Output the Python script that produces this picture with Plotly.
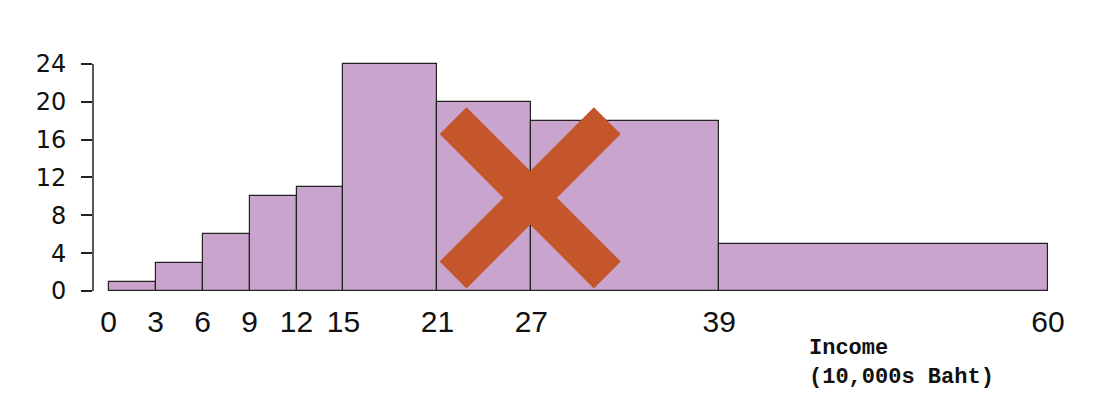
import plotly.graph_objects as go

# Histogram bins (income, 10,000s Baht) and counts
bin_left = [0, 3, 6, 9, 12, 15, 21, 27, 39]
bin_right = [3, 6, 9, 12, 15, 21, 27, 39, 60]
counts = [1, 3, 6, 10, 11, 24, 20, 18, 5]
x_ticks = [0, 3, 6, 9, 12, 15, 21, 27, 39, 60]
y_ticks = [0, 4, 8, 12, 16, 20, 24]

widths = [r - l for l, r in zip(bin_left, bin_right)]

fig = go.Figure()
fig.add_trace(go.Bar(
    x=bin_left, y=counts, width=widths, offset=0,
    marker=dict(color="#C9A5CE", line=dict(color="#222222", width=1.2)),
    showlegend=False, hoverinfo="skip", cliponaxis=False,
))

# Red cross over the 21-39 region
cross_color = "#C5562B"
fig.add_shape(type="line", xref="x", yref="y", x0=22.0, y0=18.0, x1=31.85, y1=1.7,
              line=dict(color=cross_color, width=38))
fig.add_shape(type="line", xref="x", yref="y", x0=22.0, y0=1.7, x1=31.85, y1=18.0,
              line=dict(color=cross_color, width=38))

# y-axis spine spanning exactly the tick range
fig.add_shape(type="line", xref="paper", yref="y", x0=0, x1=0,
              y0=y_ticks[0], y1=y_ticks[-1], line=dict(color="#222222", width=1.5))

fig.add_annotation(
    x=44.6, xref="x", xanchor="left", y=-0.31, yref="paper", yanchor="middle",
    text="<b>Income</b><br><b>(10,000s Baht)</b>", showarrow=False, align="left",
    font=dict(family="Liberation Mono, Courier New, monospace", size=22, color="#111111"),
)

fig.update_layout(
    width=1103, height=414,
    margin=dict(l=85, r=63, t=54, b=130),
    paper_bgcolor="white", plot_bgcolor="white",
    bargap=0,
    font=dict(family="Liberation Sans, Arial, sans-serif", color="#111111"),
)
fig.update_xaxes(
    range=[-1.0, 60], tickvals=x_ticks, ticktext=[str(v) for v in x_ticks],
    showgrid=False, zeroline=False, showline=False, ticks="",
    tickfont=dict(size=30), ticklabelstandoff=9,
)
fig.update_yaxes(
    range=[-0.1, 24.2], tickvals=y_ticks, showgrid=False, zeroline=False,
    showline=False,
    ticks="outside", ticklen=11, tickcolor="#222222", tickwidth=1.5,
    tickfont=dict(size=24, family="DejaVu Sans, sans-serif"), ticklabelstandoff=10,
)

fig.write_html("out.html")
